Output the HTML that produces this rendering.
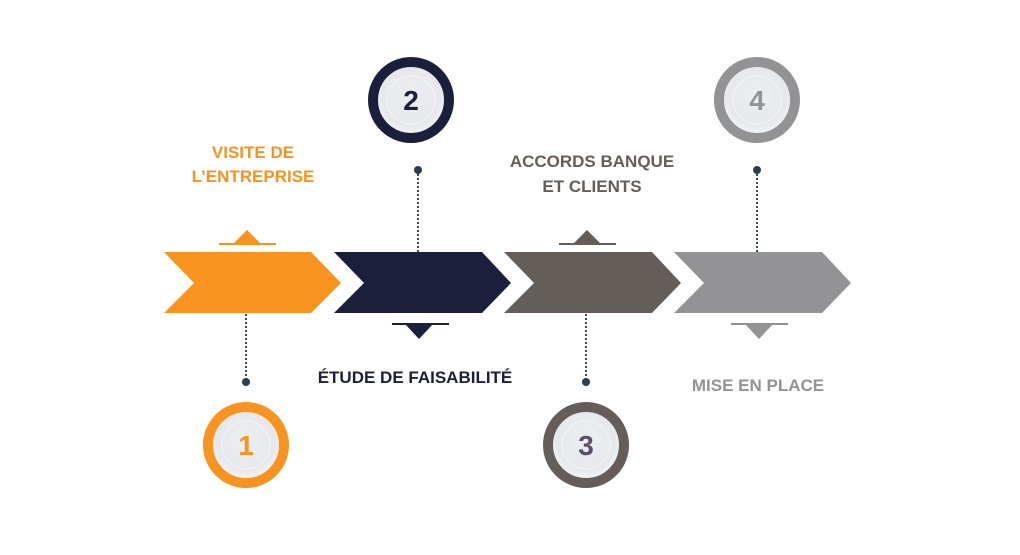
<!DOCTYPE html>
<html><head><style>
body{margin:0;background:#fff;width:1020px;height:550px;overflow:hidden}
svg text{font-family:"Liberation Sans",sans-serif;font-weight:bold;text-anchor:middle}
</style></head><body>
<svg width="1020" height="550" viewBox="0 0 1020 550">
<defs>
<radialGradient id="g" cx="50%" cy="45%" r="55%">
<stop offset="0" stop-color="#eceef2"/><stop offset="0.7" stop-color="#e6e8ec"/><stop offset="1" stop-color="#f8f9fb"/>
</radialGradient>
</defs>
<polygon points="164,252 311,252 341,283 311,313 164,313 194,283" fill="#f7931e"/>
<polygon points="334,252 482,252 511,283 482,313 334,313 364,283" fill="#1c1f3c"/>
<polygon points="504,252 652,252 681,283 652,313 504,313 534,283" fill="#645d59"/>
<polygon points="674,252 822,252 851,283 822,313 674,313 704,283" fill="#939396"/>
<rect x="219" y="243" width="57" height="2" fill="#f7931e"/><polygon points="233,244 247,230 261,244" fill="#f7931e"/>
<rect x="392" y="323" width="57" height="2" fill="#1c1f3c"/><polygon points="405,324 419,339 433,324" fill="#1c1f3c"/>
<rect x="559" y="243" width="57" height="2" fill="#645d59"/><polygon points="573,244 587,230 601,244" fill="#645d59"/>
<rect x="731" y="323" width="57" height="2" fill="#939396"/><polygon points="745,324 759,339 773,324" fill="#939396"/>
<g stroke="#3d4a5c" stroke-width="2" stroke-dasharray="2,2">
<line x1="246" y1="314" x2="246" y2="382"/>
<line x1="418" y1="170" x2="418" y2="252"/>
<line x1="586" y1="314" x2="586" y2="382"/>
<line x1="757" y1="170" x2="757" y2="252"/>
</g>
<g fill="#2e3a4d"><circle cx="246" cy="382" r="4"/><circle cx="418" cy="170" r="4"/><circle cx="586" cy="382" r="4"/><circle cx="757" cy="170" r="4"/></g>
<g stroke-width="10">
<circle cx="246" cy="445" r="38" fill="url(#g)" stroke="#f7931e"/>
<circle cx="411" cy="100" r="38" fill="url(#g)" stroke="#1c1f3c"/>
<circle cx="586" cy="445" r="38" fill="url(#g)" stroke="#645d59"/>
<circle cx="757" cy="100" r="38" fill="url(#g)" stroke="#939396"/>
</g>
<g fill="none" stroke="#fff" stroke-width="1" opacity="0.5">
<circle cx="246" cy="445" r="24"/><circle cx="411" cy="100" r="24"/><circle cx="586" cy="445" r="24"/><circle cx="757" cy="100" r="24"/>
</g>
<text x="246" y="455" font-size="28" fill="#f7931e">1</text>
<text x="411" y="110" font-size="28" fill="#1c1f3c">2</text>
<text x="586" y="455" font-size="28" fill="#5a4e6a">3</text>
<text x="757" y="110" font-size="28" fill="#939396">4</text>
<text x="253" y="158" font-size="17" fill="#f7931e">VISITE DE</text>
<text x="253" y="182" font-size="17" fill="#f7931e">L’ENTREPRISE</text>
<text x="415" y="383" font-size="17" fill="#1c1f3c">ÉTUDE DE FAISABILITÉ</text>
<text x="592" y="167" font-size="17" fill="#645d59">ACCORDS BANQUE</text>
<text x="592" y="192" font-size="17" fill="#645d59">ET CLIENTS</text>
<text x="758" y="391" font-size="17" fill="#939396">MISE EN PLACE</text>
</svg>
</body></html>
